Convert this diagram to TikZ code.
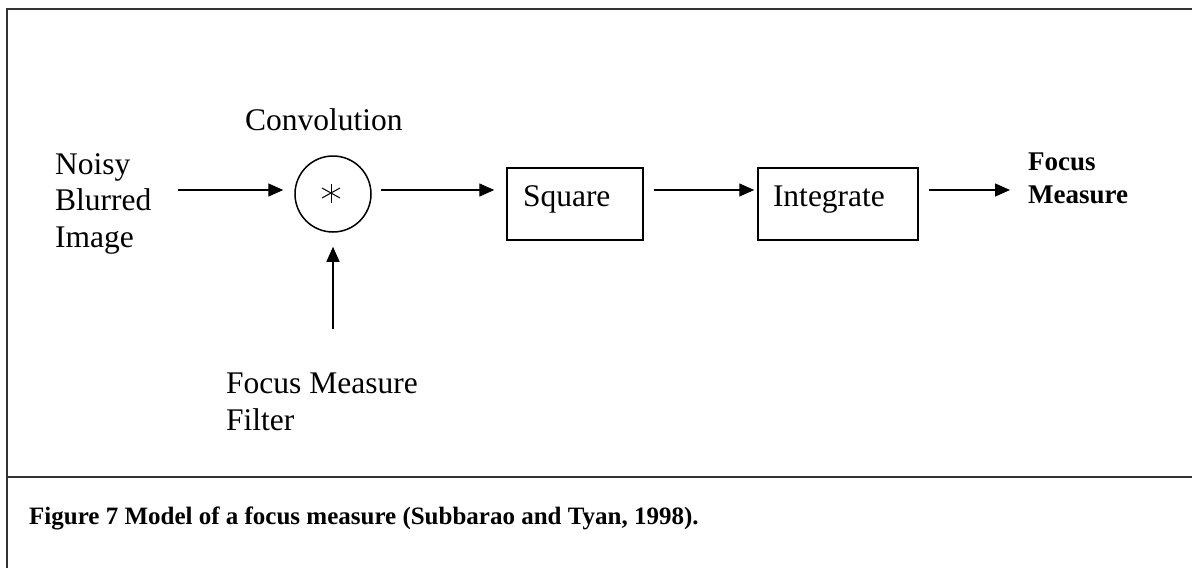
\documentclass[tikz,border=0pt]{standalone}
\usepackage{fontspec}
\setmainfont{Liberation Serif}
\usetikzlibrary{arrows.meta}
\begin{document}
\begin{tikzpicture}[x=1pt,y=-1pt,
  lbl/.style={inner sep=0pt, align=left, font=\fontsize{31.5}{36.5}\selectfont},
  blbl/.style={inner sep=0pt, font=\bfseries\fontsize{27}{33}\selectfont, align=left},
  blk/.style={draw, line width=1.5pt, minimum height=72pt, inner ysep=0pt,
              text height=26pt, text depth=22pt, align=left,
              font=\fontsize{31.5}{36.5}\selectfont},
  conn/.style={line width=1.4pt, -{Triangle[length=15pt,width=13pt]}},
  framel/.style={line width=2pt, draw=black!80}]
\useasboundingbox (0,0) rectangle (1192,568);
% frame
\coordinate (fbl) at (7,568);
\coordinate (ftl) at (7,9);
\coordinate (ftr) at (1192,9);
\coordinate (fml) at (7,477);
\coordinate (fmr) at (1192,477);
\draw[framel] (fbl) -- (ftl) -- (ftr);
\draw[framel] (fml) -- (fmr);
% level of the signal line
\coordinate (y0) at (0,190);
% nodes (base anchor of a multi-line node = baseline of its last line)
\node[lbl, anchor=base west] (src) at (55,247) {Noisy\\Blurred\\Image};
\node[draw, circle, line width=1.5pt, minimum size=76pt, inner sep=0pt] (conv) at (333,194) {};
\coordinate (star) at (331,193);
\draw[line width=1pt] ([shift={(0,-9.5)}]star) -- ([shift={(0,9.5)}]star);
\draw[line width=1pt] ([shift={(-9,-5)}]star) -- ([shift={(9,5)}]star);
\draw[line width=1pt] ([shift={(-9,5)}]star) -- ([shift={(9,-5)}]star);
\node[lbl, anchor=base west] (convlbl) at (245,130) {Convolution};
\node[blk, text width=104pt, inner xsep=16pt] (sq) at (575,204) {Square};
\node[blk, text width=130pt, inner xsep=15pt] (int) at (838,204) {Integrate};
\node[blbl, anchor=base west] (out) at (1028,203) {Focus\\Measure};
\node[lbl, anchor=base west, font=\fontsize{31.5}{37}\selectfont] (filt) at (226,430) {Focus Measure\\Filter};
\node[inner sep=0pt, anchor=base west, font=\bfseries\fontsize{25}{30}\selectfont] (cap) at (29,524)
  {Figure 7 Model of a focus measure (Subbarao and Tyan, 1998).};
% connectors
\draw[conn] ([xshift=26pt]src.east |- y0) -- ([xshift=-11pt]conv.west |- y0);
\draw[conn] ([xshift=9pt]conv.east |- y0) -- ([xshift=-12pt]sq.west |- y0);
\draw[conn] ([xshift=10pt]sq.east |- y0) -- ([xshift=-3pt]int.west |- y0);
\draw[conn] ([xshift=10pt]int.east |- y0) -- ([xshift=-18pt]out.west |- y0);
\draw[conn] ([yshift=-96pt]conv.south) -- ([yshift=-14pt]conv.south);
\end{tikzpicture}
\end{document}
